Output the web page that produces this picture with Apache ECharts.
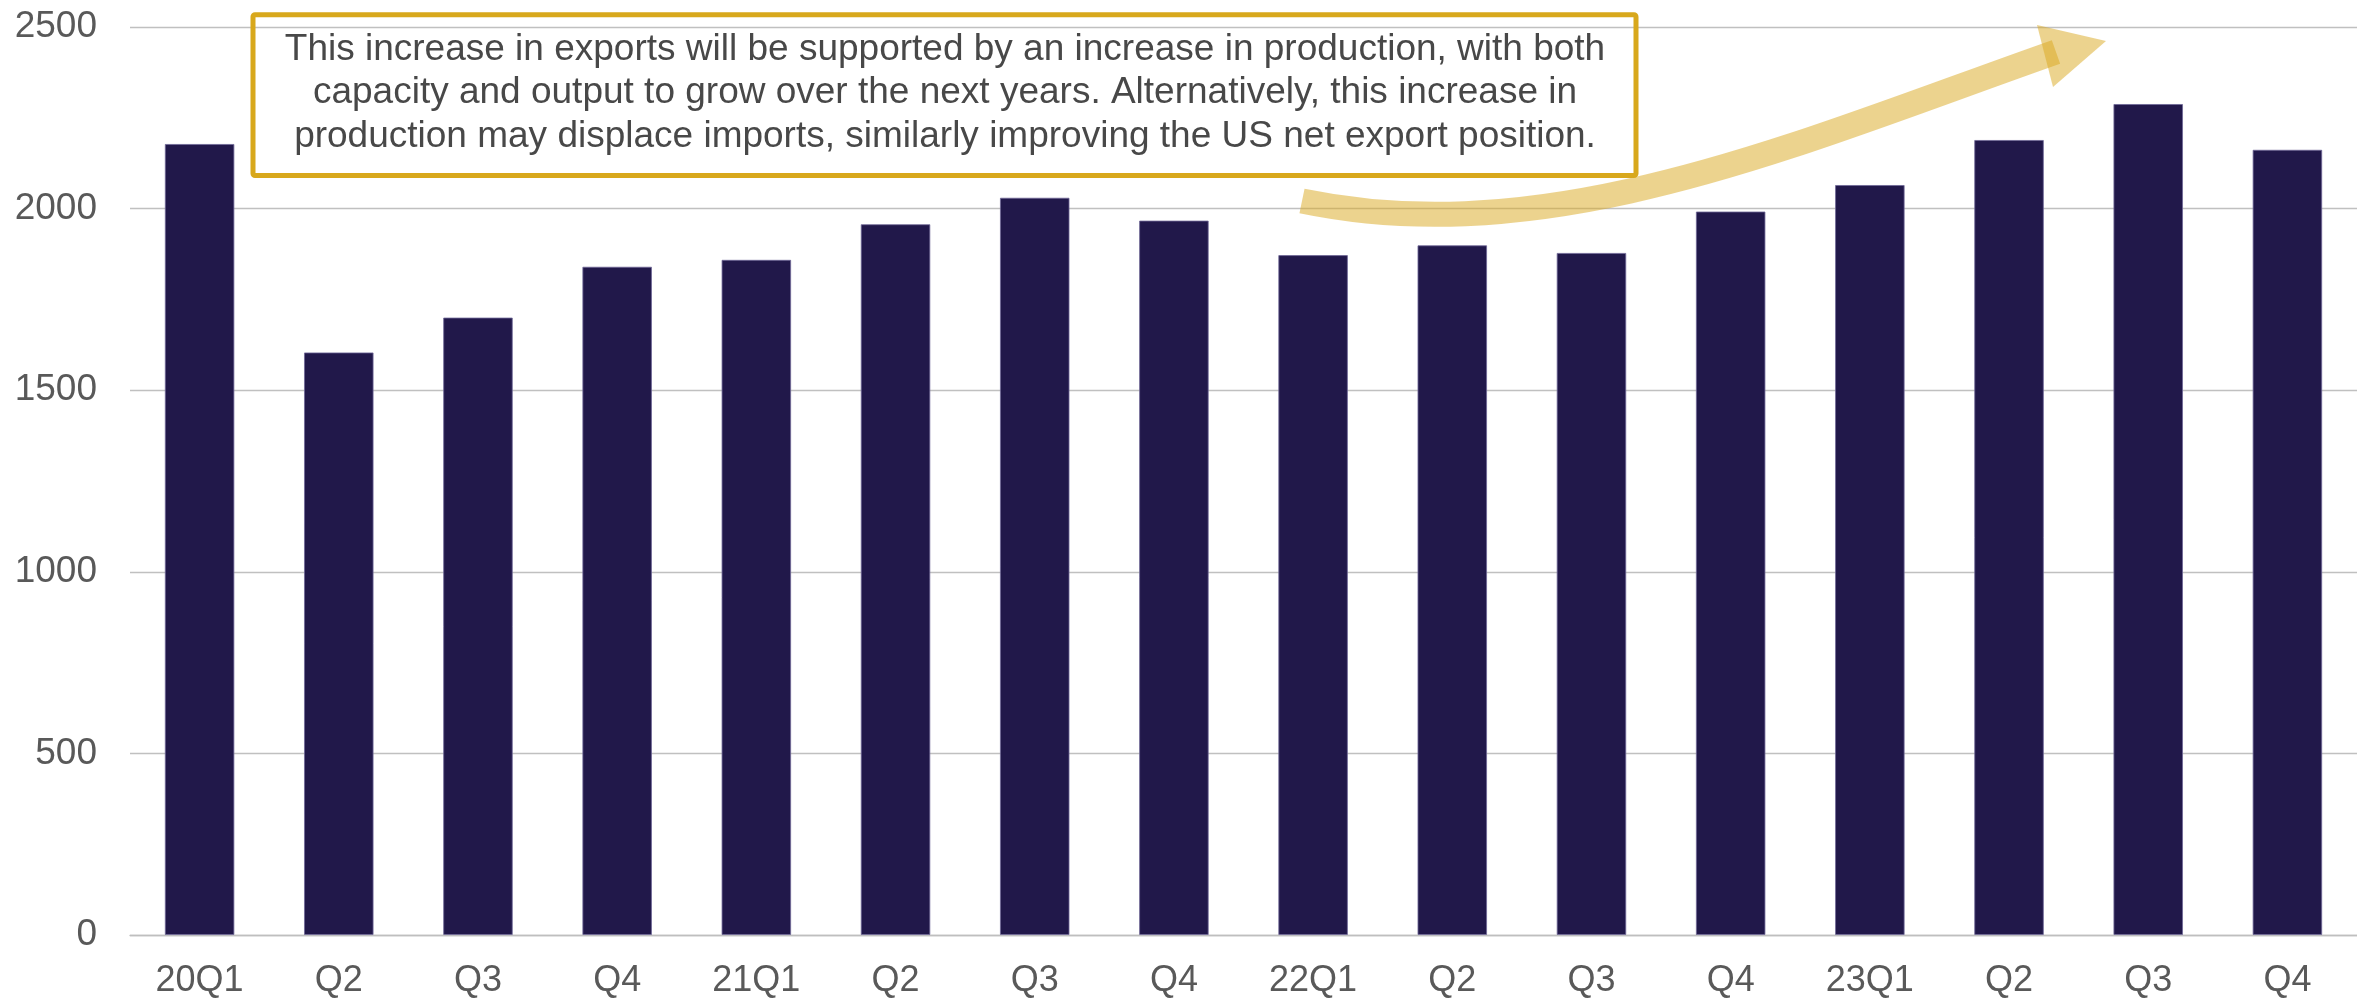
<!DOCTYPE html>
<html>
<head>
<meta charset="utf-8">
<script src="https://cdn.jsdelivr.net/npm/echarts@6/dist/echarts.min.js"></script>
<style>
  html, body { margin: 0; padding: 0; background: #fff; }
  #chart { width: 2357px; height: 999px; }
</style>
</head>
<body>
<div id="chart"></div>
<script>
// quarters and values
var quarters = ['20Q1', 'Q2', 'Q3', 'Q4', '21Q1', 'Q2', 'Q3', 'Q4',
                '22Q1', 'Q2', 'Q3', 'Q4', '23Q1', 'Q2', 'Q3', 'Q4'];
var values = [2178, 1604, 1700, 1840, 1859, 1957, 2030, 1967,
              1872, 1899, 1878, 1992, 2065, 2189, 2288, 2162];
var yTicks = [0, 500, 1000, 1500, 2000, 2500];

var noteLines = [
    'This increase in exports will be supported by an increase in production, with both',
    'capacity and output to grow over the next years. Alternatively, this increase in',
    'production may displace imports, similarly improving the US net export position.'
];

var FONT = '"Liberation Sans", Arial, sans-serif';
var gold = 'rgba(217,168,30,0.5)';

var myChart = echarts.init(document.getElementById('chart'));
var option = {
    animation: false,
    backgroundColor: '#ffffff',
    grid: {
        left: 130,
        right: -17,
        top: 27,
        bottom: 62,
        containLabel: false
    },
    xAxis: {
        type: 'category',
        data: quarters,
        axisTick: { show: false },
        axisLine: { lineStyle: { color: '#bfbfbf', width: 1.3 } },
        axisLabel: {
            interval: 0,
            margin: 28,
            color: '#595959',
            fontSize: 36,
            fontFamily: FONT
        }
    },
    yAxis: {
        type: 'value',
        min: yTicks[0],
        max: yTicks[yTicks.length - 1],
        interval: 500,
        axisLine: { show: false },
        axisTick: { show: false },
        splitLine: { lineStyle: { color: '#c0c0c0', width: 1.3 } },
        axisLabel: {
            margin: 33,
            color: '#595959',
            fontSize: 37,
            fontFamily: FONT,
            formatter: function (v) { return String(v); }
        }
    },
    series: [
        {
            type: 'bar',
            data: values,
            barWidth: '50%',
            itemStyle: {
                color: '#21184a',
                borderColor: 'rgba(110,102,150,0.8)',
                borderWidth: 1
            }
        }
    ],
    graphic: [
        {
            type: 'rect',
            shape: { x: 253, y: 14.7, width: 1383, height: 160.8, r: 2 },
            style: { fill: 'none', stroke: '#d8a81c', lineWidth: 5 },
            z: 100
        },
        {
            type: 'text',
            x: 945,
            y: 93,
            style: {
                text: noteLines.join('\n'),
                fill: '#484848',
                fontSize: 37,
                fontFamily: FONT,
                lineHeight: 43.5,
                align: 'center',
                verticalAlign: 'middle'
            },
            z: 100
        },
        {
            type: 'bezierCurve',
            shape: {
                x1: 1302, y1: 201,
                cpx1: 1552, cpy1: 253,
                cpx2: 1800, cpy2: 142,
                x2: 2056, y2: 52
            },
            style: { stroke: gold, lineWidth: 25, fill: 'none', lineCap: 'butt' },
            z: 100
        },
        {
            type: 'polygon',
            shape: { points: [[2037, 25], [2106, 41], [2053, 87]] },
            style: { fill: gold },
            z: 100
        }
    ]
};
option && myChart.setOption(option);
</script>
</body>
</html>
